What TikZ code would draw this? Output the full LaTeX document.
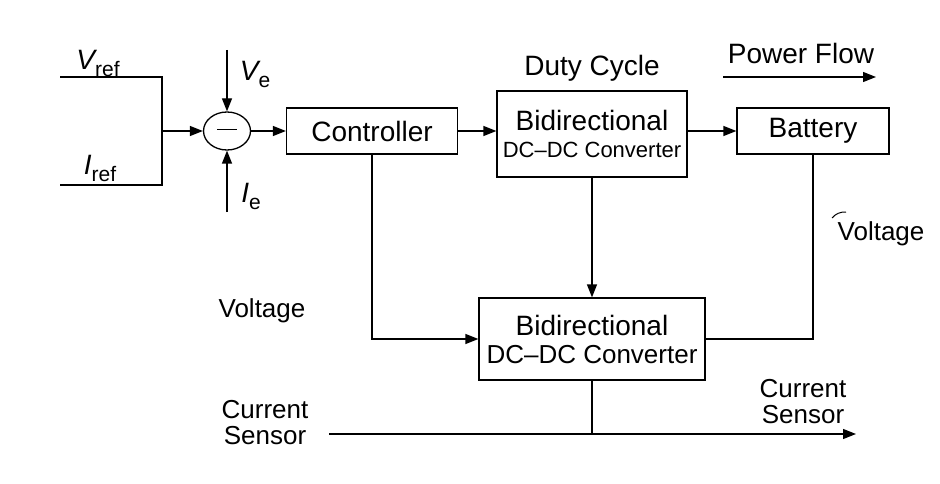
\documentclass[tikz,border=0pt]{standalone}
\usepackage{fontspec}
\setmainfont{Liberation Sans}
\usetikzlibrary{arrows.meta,shapes.geometric}
\tikzset{
  blk/.style={draw, rectangle, inner sep=0pt, align=center, font=\fontsize{28}{30}\selectfont},
  sumnode/.style={draw, ellipse, inner sep=0pt, minimum width=47pt, minimum height=38pt},
  lbl/.style={align=center, font=\fontsize{26}{26}\selectfont},
  sig/.style={-{Triangle[length=13pt,width=10pt]}},
}
\newcommand{\sublbl}[2]{{\fontsize{28}{28}\selectfont\itshape #1}\raisebox{-7pt}{\fontsize{21}{21}\selectfont #2}}
\newcommand{\smallline}[1]{{\fontsize{22}{24}\selectfont #1}}

\begin{document}
\begin{tikzpicture}[x=1pt,y=-1pt,line width=1.3pt]
\useasboundingbox (0,0) rectangle (940,484);

% blocks
\node[sumnode] (sum) at (227,131) {\rule[0.5ex]{20pt}{1.3pt}};
\node[blk, minimum width=171pt, minimum height=46pt] (ctrl) at (372,131) {Controller};
\node[blk, minimum width=190pt, minimum height=86pt] (conv1) at (592,134)
  {Bidirectional\\[-3pt]\smallline{DC--DC Converter}};
\node[blk, minimum width=152pt, minimum height=46pt] (bat) at (813,131) {Battery};
\node[blk, minimum width=226pt, minimum height=82pt] (conv2) at (592,339)
  {Bidirectional\\[-2pt]{\fontsize{26}{28}\selectfont DC--DC Converter}};

% free ends
\coordinate (vref) at (60,77);
\coordinate (iref) at (60,185);
\coordinate (join) at (162,131);
\coordinate (vetop) at (227,50);
\coordinate (iebot) at (227,212);
\coordinate (pfl) at (723,77);
\coordinate (pfr) at (876,77);
\coordinate (csl) at (329,434);
\coordinate (csr) at (856,434);

% connectors
\draw (vref) -| (join);
\draw (iref) -| (join);
\draw[sig] (join) -- (sum.west);
\draw[sig] (vetop) -- (sum.north);
\draw[sig] (iebot) -- (sum.south);
\draw[sig] (sum.east) -- (ctrl.west);
\draw[sig] (ctrl.east) -- (ctrl.east -| conv1.west);
\draw[sig] (conv1.east |- bat.west) -- (bat.west);
\draw[sig] (conv1.south) -- (conv2.north);
\draw[sig] (ctrl.south) |- (conv2.west);
\draw (bat.south) |- (conv2.east);
\draw[sig] (csl) -- (csr);
\draw (conv2.south) -- (conv2.south |- csl);
\draw[sig] (pfl) -- (pfr);
\draw[line width=1pt] (832,218) to[bend left=25] (846,212);

% labels
\node[lbl] (vreflbl) at (98,63) {\sublbl{V}{ref}};
\node[lbl] (ireflbl) at (100,168) {\sublbl{I}{ref}};
\node[lbl] (velbl) at (255,74) {\sublbl{V}{e}};
\node[lbl] (ielbl) at (251,196) {\sublbl{I}{e}};
\node[lbl, font=\fontsize{28}{28}\selectfont] (duty) at (592,68) {Duty Cycle};
\node[lbl, font=\fontsize{28}{28}\selectfont] (pflow) at (801,53) {Power Flow};
\node[lbl] (voltr) at (881,234) {Voltage};
\node[lbl] (voltl) at (262,311) {Voltage};
\node[lbl] (csensl) at (265,423) {Current\\Sensor};
\node[lbl] (csensr) at (803,402) {Current\\Sensor};
\end{tikzpicture}
\end{document}
